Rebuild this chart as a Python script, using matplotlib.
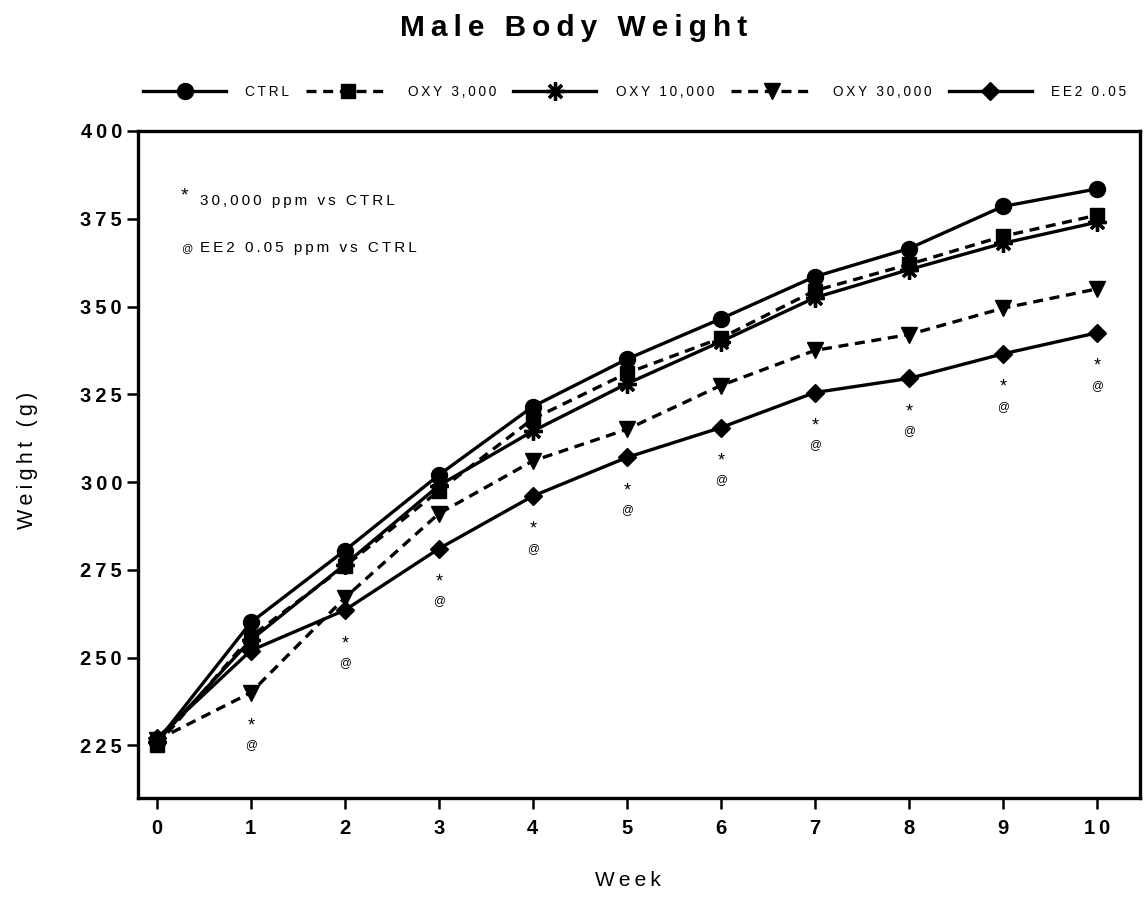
import matplotlib
matplotlib.use("Agg")
import matplotlib.pyplot as plt

plt.rcParams["font.family"] = ["Liberation Sans", "DejaVu Sans"]

# =========================
# data
# =========================
weeks = [0, 1, 2, 3, 4, 5, 6, 7, 8, 9, 10]
ctrl = [226, 260, 280.5, 302, 321.5, 335, 346.5, 358.5, 366.5, 378.5, 383.5]
oxy_3000 = [225, 256, 276, 297.5, 318, 331, 341, 354.5, 362, 370, 376]
oxy_10000 = [226, 255, 276.5, 299, 314.5, 328, 340, 352.5, 360.5, 368, 374]
oxy_30000 = [226.5, 240, 267, 291, 306, 315, 327.5, 337.5, 342, 349.5, 355]
ee2_005 = [227, 252, 263.5, 281, 296, 307, 315.5, 325.5, 329.5, 336.5, 342.5]

labels = ["CTRL", "OXY 3,000", "OXY 10,000", "OXY 30,000", "EE2 0.05"]
sig_weeks = [1, 2, 3, 4, 5, 6, 7, 8, 9, 10]
y_ticks = [225, 250, 275, 300, 325, 350, 375, 400]
x_ticks = weeks

TS = "\u2009"


def spaced(s, sep=TS):
    return sep.join(s)


fig = plt.figure(figsize=(11.47, 9.24), dpi=100)
ax = fig.add_axes([138 / 1147, 1 - 798 / 924, (1140 - 138) / 1147, (798 - 131) / 924])

styles = [
    dict(marker="o", linestyle="-", ms=11.5),
    dict(marker="s", linestyle="--", ms=10.5),
    dict(marker=(8, 2, 0), linestyle="-", ms=13, mew=2.4),
    dict(marker="v", linestyle="--", ms=11.5),
    dict(marker="D", linestyle="-", ms=9.5),
]
series = [ctrl, oxy_3000, oxy_10000, oxy_30000, ee2_005]
handles = []
for vals, lab, st in zip(series, labels, styles):
    st = dict(st)
    mew = st.pop("mew", 1)
    h, = ax.plot(weeks, vals, color="black", lw=2.4, mew=mew, mec="black",
                 mfc="black", dashes=(3, 2) if st["linestyle"] == "--" else (None, None),
                 label=spaced(lab), **st)
    handles.append(h)

# significance marks under the lowest group at each week
for w in sig_weeks:
    low = min(s[w] for s in series)
    ax.annotate("*", (w, low), xytext=(0, -24), textcoords="offset points",
                ha="center", va="center", fontsize=13)
    ax.annotate("@", (w, low), xytext=(0, -38), textcoords="offset points",
                ha="center", va="center", fontsize=8.5)

ax.text(0.043, 0.903, "*", transform=ax.transAxes, fontsize=14, va="center")
ax.text(0.062, 0.895, spaced("30,000 ppm vs CTRL"), transform=ax.transAxes,
        fontsize=11, va="center")
ax.text(0.043, 0.825, "@", transform=ax.transAxes, fontsize=8, va="center")
ax.text(0.062, 0.825, spaced("EE2 0.05 ppm vs CTRL"), transform=ax.transAxes,
        fontsize=11, va="center")

ax.set_xlim(-0.2, 10.46)
ax.set_ylim(210, 400)
ax.set_xticks(x_ticks)
ax.set_xticklabels([spaced(str(x)) for x in x_ticks], fontsize=14.5, fontweight="bold")
ax.set_yticks(y_ticks)
ax.set_yticklabels([spaced(str(y)) for y in y_ticks], fontsize=14.5, fontweight="bold")
ax.tick_params(direction="out", length=8, width=1.8)
ax.tick_params(axis="y", pad=3.5)
ax.tick_params(axis="x", pad=7)
for sp in ax.spines.values():
    sp.set_linewidth(2.4)

fig.text(27 / 1147, 1 - 460 / 924, spaced("Weight (g)"), rotation=90, ha="center",
         va="center", fontsize=15.5)
fig.text(628 / 1147, 1 - 880 / 924, spaced("Week"), ha="center", va="center", fontsize=15)

fig.text(574 / 1147, 1 - 28 / 924, spaced("Male Body Weight"), ha="center", va="center",
         fontsize=21.5, fontweight="bold")

fig.legend(handles=handles, loc="center left", bbox_to_anchor=(143 / 1147, 1 - 92 / 924),
           ncol=5, frameon=False, fontsize=9.8, handlelength=6.1, handletextpad=1.4,
           columnspacing=1.25, numpoints=1, borderaxespad=0, borderpad=0)

fig.savefig("out.png", dpi=100)
